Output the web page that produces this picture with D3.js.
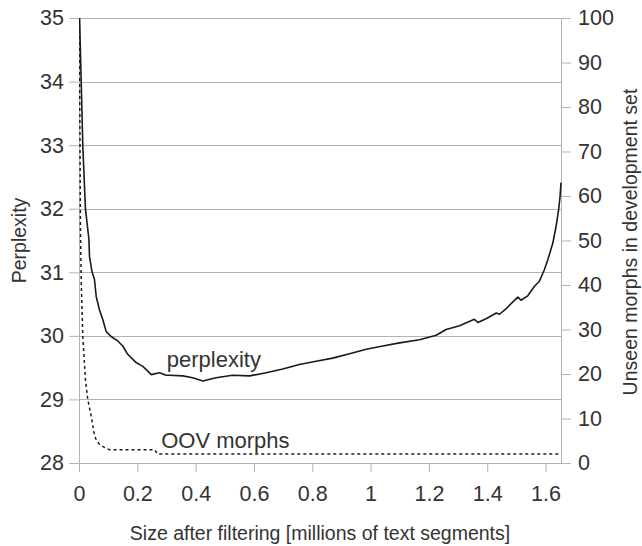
<!DOCTYPE html>
<html><head><meta charset="utf-8">
<script src="https://cdn.jsdelivr.net/npm/d3@7"></script>
<style>
html,body{margin:0;padding:0;background:#fff;}
text{font-family:"Liberation Sans",Arial,sans-serif;}
</style></head>
<body>
<svg id="chart" width="642" height="546"></svg>
<script>
// ---- data ----
const perplexitySize = [0,0.002,0.0075,0.013,0.022,0.034,0.036,0.045,0.053,0.059,0.070,0.082,0.093,0.110,0.133,0.150,0.167,0.196,0.219,0.248,0.276,0.299,0.310,0.356,0.390,0.425,0.470,0.527,0.585,0.642,0.699,0.756,0.813,0.870,0.928,0.985,1.042,1.099,1.168,1.225,1.259,1.305,1.356,1.368,1.396,1.431,1.442,1.465,1.505,1.516,1.539,1.562,1.579,1.596,1.608,1.625,1.636,1.645,1.650,1.653];
const perplexityValues = [35.3,35.0,34.0,33.0,32.0,31.52,31.25,31.0,30.89,30.62,30.41,30.25,30.07,29.99,29.92,29.84,29.71,29.58,29.52,29.39,29.42,29.38,29.38,29.37,29.34,29.29,29.34,29.38,29.37,29.42,29.48,29.55,29.60,29.65,29.72,29.79,29.84,29.89,29.94,30.01,30.10,30.16,30.26,30.21,30.27,30.36,30.34,30.43,30.61,30.56,30.63,30.78,30.86,31.04,31.20,31.46,31.72,31.99,32.20,32.41];
const oovSize = [0.001,0.005,0.0075,0.013,0.022,0.030,0.042,0.053,0.060,0.070,0.087,0.105,0.259,0.270,1.653];
const oovValues = [100,52.5,41.2,28.5,18.8,14.3,10.5,6.2,5.1,4.2,3.5,3.0,3.0,2.0,2.0];
const xTicks = [0,0.2,0.4,0.6,0.8,1,1.2,1.4,1.6];
const leftTicks = [28,29,30,31,32,33,34,35];
const rightTicks = [0,10,20,30,40,50,60,70,80,90,100];
const xTitle = "Size after filtering [millions of text segments]";
const leftTitle = "Perplexity";
const rightTitle = "Unseen morphs in development set";
const labelPerplexity = {text:"perplexity", x:0.301, y:29.51};
const labelOOV = {text:"OOV morphs", x:0.282, y:3.4};

// ---- layout ----
const L = 79, R = 561, T = 18, B = 463;
const svg = d3.select("#chart");
const x = d3.scaleLinear().domain([0, 1.653]).range([L, R]);
const yL = d3.scaleLinear().domain([28, 35]).range([B, T]);
const yR = d3.scaleLinear().domain([0, 100]).range([B, T]);
const grey = "#b3b3b3", txt = "#333333";

// gridlines
svg.append("g").selectAll("line").data(leftTicks.filter(d => d !== 28)).join("line")
  .attr("x1", L).attr("x2", R)
  .attr("y1", d => Math.round(yL(d)) + 0.5).attr("y2", d => Math.round(yL(d)) + 0.5)
  .attr("stroke", grey).attr("stroke-width", 1);

function styleAxis(g){
  g.select(".domain").attr("stroke", grey);
  g.selectAll(".tick line").attr("stroke", grey);
  g.selectAll(".tick text").attr("fill", txt).style("font-size", "21.5px")
   .style("font-family", '"Liberation Sans",Arial,sans-serif');
}

svg.append("g").attr("transform", `translate(0,${B})`)
  .call(d3.axisBottom(x).tickValues(xTicks).tickFormat(d3.format("~g")).tickSize(9).tickPadding(14).tickSizeOuter(0))
  .call(styleAxis);
svg.append("g").attr("transform", `translate(${L},0)`)
  .call(d3.axisLeft(yL).tickValues(leftTicks).tickFormat(d3.format("d")).tickSize(10).tickPadding(5).tickSizeOuter(0))
  .call(styleAxis);
svg.append("g").attr("transform", `translate(${R},0)`)
  .call(d3.axisRight(yR).tickValues(rightTicks).tickFormat(d3.format("d")).tickSize(10).tickPadding(7).tickSizeOuter(0))
  .call(styleAxis);

// clip
svg.append("clipPath").attr("id","clip").append("rect")
  .attr("x", L).attr("y", T).attr("width", R - L + 1).attr("height", B - T + 1);

const lineP = d3.line().x((d,i) => x(perplexitySize[i])).y(d => yL(d));
svg.append("path").datum(perplexityValues).attr("d", lineP)
  .attr("clip-path","url(#clip)")
  .attr("fill","none").attr("stroke","#1a1a1a").attr("stroke-width",1.6).attr("stroke-linejoin","round");

const lineO = d3.line().x((d,i) => x(oovSize[i])).y(d => yR(d));
svg.append("path").datum(oovValues).attr("d", lineO)
  .attr("clip-path","url(#clip)")
  .attr("fill","none").attr("stroke","#1a1a1a").attr("stroke-width",1.5).attr("stroke-dasharray","3,3");

// annotations
svg.append("text").attr("x", x(labelPerplexity.x)).attr("y", yL(labelPerplexity.y))
  .text(labelPerplexity.text).attr("fill", txt).style("font-size","22px");
svg.append("text").attr("x", x(labelOOV.x)).attr("y", yR(labelOOV.y))
  .text(labelOOV.text).attr("fill", txt).style("font-size","22px");

// titles
svg.append("text").attr("x", (L + R) / 2).attr("y", 540).attr("text-anchor","middle")
  .text(xTitle).attr("fill", txt).style("font-size","19.5px");
svg.append("text").attr("transform", `translate(26,${(T+B)/2}) rotate(-90)`).attr("text-anchor","middle")
  .text(leftTitle).attr("fill", txt).style("font-size","19.5px");
svg.append("text").attr("transform", `translate(637,242) rotate(-90)`).attr("text-anchor","middle")
  .text(rightTitle).attr("fill", txt).style("font-size","19.5px");
</script>
</body></html>
